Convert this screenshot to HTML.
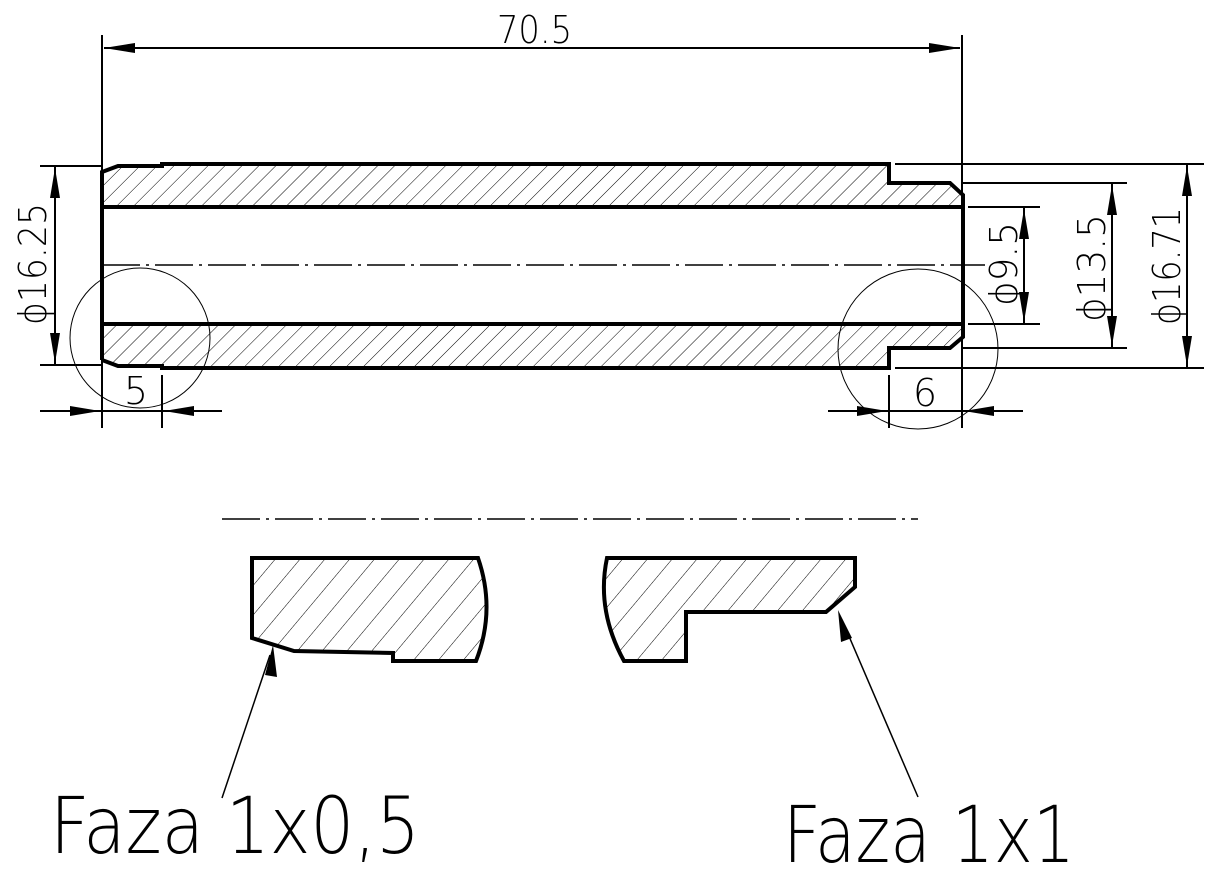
<!DOCTYPE html>
<html><head><meta charset="utf-8"><style>
html,body{margin:0;padding:0;background:#fff;}
svg{display:block}
text{font-family:"DejaVu Sans","Liberation Sans",sans-serif;font-weight:200;fill:#000}
</style></head><body>
<svg width="1214" height="884" viewBox="0 0 1214 884" xmlns="http://www.w3.org/2000/svg">
<defs>
<pattern id="h1" patternUnits="userSpaceOnUse" width="12" height="12" patternTransform="rotate(45)">
<line x1="0" y1="0" x2="0" y2="12" stroke="#000" stroke-width="1"/></pattern>
<pattern id="h2" patternUnits="userSpaceOnUse" width="19" height="19" patternTransform="rotate(40)">
<line x1="0" y1="0" x2="0" y2="19" stroke="#000" stroke-width="1"/></pattern>
</defs>

<path d="M102,172 L118,166 L162,166 L162,164 L889,164 L889,183 L950,183 L963,195 L963,207 L102,207 Z" fill="url(#h1)"/>
<path d="M102,324 L963,324 L963,337 L950,348 L889,348 L889,368 L162,368 L162,366 L118,366 L102,360 Z" fill="url(#h1)"/>
<g fill="none" stroke="#000" stroke-width="4" stroke-linejoin="miter">
<path d="M102,360 L102,172 L118,166 L162,166 L162,164 L889,164 L889,183 L950,183 L963,195 L963,337 L950,348 L889,348 L889,368 L162,368 L162,366 L118,366 L102,360"/>
<line x1="102" y1="207" x2="963" y2="207"/>
<line x1="102" y1="324" x2="963" y2="324"/>
</g>
<line x1="102" y1="265" x2="985" y2="265" stroke="#000" stroke-width="1.5" stroke-dasharray="38,6,3,6"/>
<circle cx="140" cy="338" r="70" fill="none" stroke="#000" stroke-width="1"/>
<circle cx="918" cy="349" r="80" fill="none" stroke="#000" stroke-width="1"/>

<g stroke="#000" stroke-width="2" fill="none">
<line x1="102" y1="35" x2="102" y2="428"/>
<line x1="962" y1="35" x2="962" y2="428"/>
<line x1="104" y1="48" x2="960" y2="48"/>
<line x1="40" y1="166" x2="102" y2="166"/>
<line x1="40" y1="365" x2="102" y2="365"/>
<line x1="55" y1="166" x2="55" y2="365"/>
<line x1="968" y1="207" x2="1040" y2="207"/>
<line x1="968" y1="324" x2="1040" y2="324"/>
<line x1="1024" y1="207" x2="1024" y2="324"/>
<line x1="962" y1="183" x2="1127" y2="183"/>
<line x1="962" y1="348" x2="1127" y2="348"/>
<line x1="1112" y1="183" x2="1112" y2="348"/>
<line x1="895" y1="164" x2="1204" y2="164"/>
<line x1="895" y1="368" x2="1204" y2="368"/>
<line x1="1187" y1="164" x2="1187" y2="368"/>
<line x1="162" y1="375" x2="162" y2="428"/>
<line x1="40" y1="411" x2="222" y2="411"/>
<line x1="889" y1="375" x2="889" y2="428"/>
<line x1="828" y1="411" x2="1023" y2="411"/>
</g>
<g fill="#000">
<path d="M104,48 L135,43 L135,53 z"/><path d="M960,48 L929,43 L929,53 z"/>
<path d="M55,168 L50,198 L60,198 z"/><path d="M55,363 L50,333 L60,333 z"/>
<path d="M1024,209 L1019,239 L1029,239 z"/><path d="M1024,322 L1019,292 L1029,292 z"/>
<path d="M1112,185 L1107,215 L1117,215 z"/><path d="M1112,346 L1107,316 L1117,316 z"/>
<path d="M1187,166 L1182,196 L1192,196 z"/><path d="M1187,366 L1182,336 L1192,336 z"/>
<path d="M100,411 L70,406 L70,416 z"/><path d="M164,411 L194,406 L194,416 z"/>
<path d="M887,411 L857,406 L857,416 z"/><path d="M964,411 L994,406 L994,416 z"/>
</g>
<g style="font-weight:normal">
<text x="497" y="43" font-size="38" textLength="75" lengthAdjust="spacingAndGlyphs">70.5</text>
<text x="136" y="404" font-size="38" text-anchor="middle">5</text>
<text x="925" y="406" font-size="38" text-anchor="middle">6</text>
<text transform="translate(46,325) rotate(-90)" font-size="38" textLength="122" lengthAdjust="spacingAndGlyphs">ϕ16.25</text>
<text transform="translate(1017,306) rotate(-90)" font-size="38" textLength="84" lengthAdjust="spacingAndGlyphs">ϕ9.5</text>
<text transform="translate(1105,322) rotate(-90)" font-size="38" textLength="108" lengthAdjust="spacingAndGlyphs">ϕ13.5</text>
<text transform="translate(1180,325) rotate(-90)" font-size="38" textLength="118" lengthAdjust="spacingAndGlyphs">ϕ16.71</text>
</g>

<line x1="222" y1="519" x2="918" y2="519" stroke="#000" stroke-width="1.5" stroke-dasharray="38,6,3,6"/>
<path d="M252,558 L478,558 Q496,610 476,661 L393,661 L393,653 L294,651 L252,638 Z" fill="url(#h2)" stroke="#000" stroke-width="4"/>
<path d="M607,558 L855,558 L855,587 L826,612 L686,612 L686,661 L624,661 Q596,610 607,558 Z" fill="url(#h2)" stroke="#000" stroke-width="4"/>
<line x1="270" y1="655" x2="222" y2="798" stroke="#000" stroke-width="1.5"/>
<path d="M273,645 L265,675 L277,677 z" fill="#000"/>
<line x1="842" y1="620" x2="918" y2="797" stroke="#000" stroke-width="1.5"/>
<path d="M838,610 L852,638 L841,642 z" fill="#000"/>
<text x="50" y="853" font-size="78" textLength="370" lengthAdjust="spacingAndGlyphs">Faza 1x0,5</text>
<text x="783" y="862" font-size="78" textLength="292" lengthAdjust="spacingAndGlyphs">Faza 1x1</text>
</svg>
</body></html>
